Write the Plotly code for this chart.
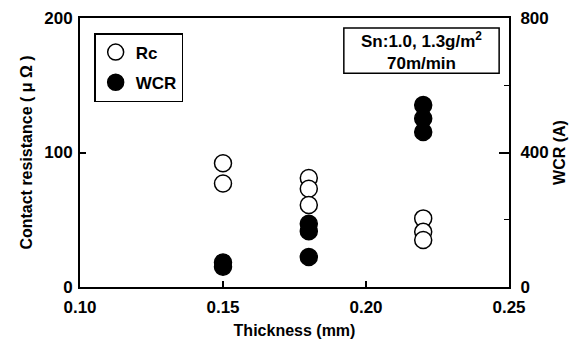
import plotly.graph_objects as go

# Data
rc_thickness = [0.15, 0.15, 0.18, 0.18, 0.18, 0.22, 0.22, 0.22]
rc_values = [92, 77, 81, 73, 61, 51, 41, 35]

wcr_thickness = [0.15, 0.15, 0.18, 0.18, 0.18, 0.22, 0.22, 0.22]
wcr_values = [73, 60, 188, 166, 89, 541, 501, 461]

x_ticks = [0.10, 0.15, 0.20, 0.25]
x_tick_labels = ["0.10", "0.15", "0.20", "0.25"]
left_ticks = [0, 100, 200]
right_ticks = [0, 400, 800]
note_lines = ["Sn:1.0, 1.3g/m<sup>2</sup>", "70m/min"]

FONT = "Liberation Sans, Arial, sans-serif"

fig = go.Figure()

fig.add_trace(go.Scatter(
    x=rc_thickness, y=rc_values, mode="markers", name="Rc",
    legendgroup="a",
    marker=dict(symbol="circle", size=17, color="white",
                line=dict(color="black", width=1.5)),
    yaxis="y",
))
fig.add_trace(go.Scatter(
    x=wcr_thickness, y=wcr_values, mode="markers", name="WCR",
    legendgroup="b",
    marker=dict(symbol="circle", size=17, color="black",
                line=dict(color="black", width=1.5)),
    yaxis="y2",
))

fig.update_layout(
    width=587, height=345,
    margin=dict(l=80, r=78, t=18, b=58, autoexpand=False),
    paper_bgcolor="white", plot_bgcolor="white",
    font=dict(family=FONT, size=17, color="black", weight="bold"),
    showlegend=True,
    legend=dict(
        x=0.033, y=0.944, xanchor="left", yanchor="top",
        bordercolor="black", borderwidth=1.5, bgcolor="white",
        font=dict(family=FONT, size=17, color="black", weight="bold"),
        traceorder="grouped", tracegroupgap=5,
        itemsizing="trace",
    ),
    xaxis=dict(
        range=[0.10, 0.25], tickvals=x_ticks, ticktext=x_tick_labels,
        ticks="inside", ticklen=6, tickwidth=1.5, tickcolor="black",
        showline=True, linecolor="black", linewidth=2, mirror=True,
        showgrid=False, zeroline=False, automargin=False,
        ticklabelstandoff=4,
        title=dict(text="Thickness (mm)", standoff=8,
                   font=dict(family=FONT, size=16, weight="bold")),
    ),
    yaxis=dict(
        range=[0, 200], tickvals=left_ticks,
        ticks="inside", ticklen=6, tickwidth=1.5, tickcolor="black",
        showline=True, linecolor="black", linewidth=2,
        showgrid=False, zeroline=False, automargin=False,
        ticklabelstandoff=2,
        title=dict(text="Contact resistance ( \u03bc \u03a9 )", standoff=8,
                   font=dict(family=FONT, size=16, weight="bold")),
    ),
    yaxis2=dict(
        range=[0, 800], tickvals=right_ticks, overlaying="y", side="right",
        ticks="inside", ticklen=10, tickwidth=1.5, tickcolor="black",
        minor=dict(tickvals=[200, 600], ticks="inside", ticklen=5,
                   tickwidth=1, tickcolor="black", showgrid=False),
        showline=True, linecolor="black", linewidth=2,
        showgrid=False, zeroline=False, automargin=False,
        ticklabelstandoff=6,
        title=dict(text="WCR (A)", standoff=6,
                   font=dict(family=FONT, size=16, weight="bold")),
    ),
    shapes=[dict(
        type="rect", xref="paper", yref="paper",
        x0=0.615, x1=0.977, y0=0.795, y1=0.963,
        line=dict(color="black", width=1.5), fillcolor="white", layer="above",
    )],
    annotations=[
        dict(xref="paper", yref="paper", x=0.796, y=0.877,
             xanchor="center", yanchor="middle",
             text="<br>".join(note_lines), align="center",
             showarrow=False,
             font=dict(family=FONT, size=17, color="black", weight="bold")),
    ],
)

fig.write_html("out.html", config={"displayModeBar": False},
               post_script="document.body.style.margin='0';document.body.style.padding='0';")
